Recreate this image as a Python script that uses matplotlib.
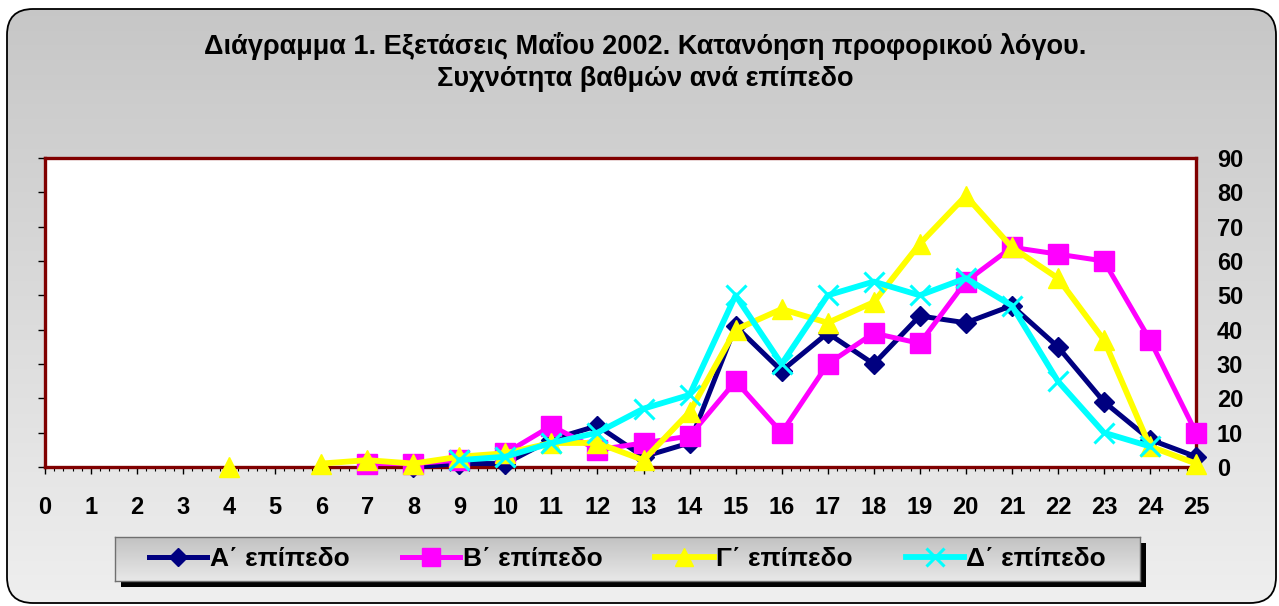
import numpy as np
import matplotlib
matplotlib.use("Agg")
import matplotlib.pyplot as plt
from matplotlib.colors import LinearSegmentedColormap
from matplotlib.patches import FancyBboxPatch, Rectangle
from matplotlib.lines import Line2D
from matplotlib.ticker import MultipleLocator

# ------------------------------------------------------------
# Dados (frequência de notas por nível)
# ------------------------------------------------------------
nan = np.nan
grades = list(range(0, 26))

level_a = [nan, nan, nan, nan, nan, nan, nan, nan, 0, 1, 1, 8, 12, 3, 7,
           41, 28, 39, 30, 44, 42, 47, 35, 19, 8, 3]
level_b = [nan, nan, nan, nan, nan, nan, nan, 1, 1, 2, 4, 12, 5, 7, 9,
           25, 10, 30, 39, 36, 54, 64, 62, 60, 37, 10]
level_c = [nan, nan, nan, nan, 0, nan, 1, 2, 1, 3, 4, 7, 7, 2, 16,
           40, 46, 42, 48, 65, 79, 64, 55, 37, 6, 1]
level_d = [nan, nan, nan, nan, nan, nan, nan, nan, nan, 2, 3, 7, 10, 17, 21,
           50, 30, 50, 54, 50, 55, 47, 25, 10, 6, nan]

labels = ["Α΄ επίπεδο", "Β΄ επίπεδο", "Γ΄ επίπεδο", "Δ΄ επίπεδο"]
title = ("Διάγραμμα 1. Εξετάσεις Μαΐου 2002. Κατανόηση προφορικού λόγου.\n"
         "Συχνότητα βαθμών ανά επίπεδο")

# ------------------------------------------------------------
# Figura
# ------------------------------------------------------------
W, H = 1279, 606
FONT = "Liberation Sans"


def fig_box(x0, y0, x1, y1):
    # pixels (origem em cima à esquerda) -> fração da figura
    return [x0 / W, 1 - y1 / H, (x1 - x0) / W, (y1 - y0) / H]


fig = plt.figure(figsize=(W / 100, H / 100), dpi=100)
fig.patch.set_facecolor("white")

# fundo em degradê com cantos arredondados
bg = fig.add_axes([0, 0, 1, 1], zorder=0)
bg.set_xlim(0, W)
bg.set_ylim(H, 0)
bg.axis("off")
cmap_bg = LinearSegmentedColormap.from_list("bg", ["#c6c6c6", "#efefef"])
grad = np.linspace(0, 1, 256).reshape(-1, 1)
im = bg.imshow(grad, cmap=cmap_bg, extent=(0, W, H, 0), aspect="auto")
caixa = FancyBboxPatch((7, 9), 1269, 594, boxstyle="round,pad=0,rounding_size=26",
                       facecolor="none", edgecolor="black", linewidth=1.3)
bg.add_patch(caixa)
im.set_clip_path(caixa)

# sombra da legenda
bg.add_patch(Rectangle((121, 543), 1025, 44, facecolor="black", edgecolor="none"))

bg.text(645, 62, title, ha="center", va="center", fontsize=19.5, fontweight="bold",
        family=FONT, linespacing=1.25)

# ------------------------------------------------------------
# Eixo principal
# ------------------------------------------------------------
ax = fig.add_axes(fig_box(45, 158, 1196, 467), zorder=1)
ax.set_facecolor("white")

estilos = [
    (level_a, "#000080", "D", 10, 3.6),
    (level_b, "#ff00ff", "s", 15, 3.6),
    (level_c, "#ffff00", "^", 15, 4.2),
    (level_d, "#00ffff", "x", 15, 4.2),
]
handles = []
for i, (vals, cor, mk, ms, lw) in enumerate(estilos):
    ln, = ax.plot(grades, vals, color=cor, marker=mk, markersize=ms, linewidth=lw,
                  markeredgecolor=cor, markerfacecolor=cor,
                  markeredgewidth=2.2 if mk == "x" else 1,
                  clip_on=False, zorder=3 + i)
    handles.append(ln)

ax.set_xlim(0, 25)
ax.set_ylim(0, 90)
ax.xaxis.set_major_locator(MultipleLocator(1))
ax.xaxis.set_minor_locator(MultipleLocator(0.2))
ax.yaxis.set_major_locator(MultipleLocator(10))

for s in ax.spines.values():
    s.set_color("#800000")
    s.set_linewidth(2.4)

ax.tick_params(axis="x", which="major", direction="out", length=5, width=1,
               color="black", pad=16)
ax.tick_params(axis="x", which="minor", direction="out", length=3, width=0.8,
               color="black")
ax.tick_params(axis="y", which="major", direction="out", length=5, width=1,
               color="black", left=True, right=False,
               labelleft=False, labelright=True, pad=10)
for lab in ax.get_xticklabels() + ax.get_yticklabels():
    lab.set_fontsize(17)
    lab.set_fontweight("bold")
    lab.set_family(FONT)

# ------------------------------------------------------------
# Legenda
# ------------------------------------------------------------
lax = fig.add_axes(fig_box(115, 537, 1140, 581), zorder=2)
cmap_leg = LinearSegmentedColormap.from_list("leg", ["#c2c2c2", "#e8e8e8"])
lax.imshow(grad, cmap=cmap_leg, extent=(0, 1, 0, 1), aspect="auto")
lax.set_xticks([])
lax.set_yticks([])
for s in lax.spines.values():
    s.set_color("#707070")
    s.set_linewidth(1)

leg_handles = [Line2D([], [], color=h.get_color(), linewidth=h.get_linewidth(),
                      marker=h.get_marker(), markersize=h.get_markersize() * 0.9,
                      markerfacecolor=h.get_color(), markeredgecolor=h.get_color(),
                      markeredgewidth=h.get_markeredgewidth())
               for h in handles]
leg = fig.legend(leg_handles, labels, loc="center",
                 bbox_to_anchor=((115 + 1140) / 2 / W, 1 - 559 / H),
                 ncol=4, frameon=False, handlelength=2.2, handletextpad=0.1,
                 columnspacing=2.0,
                 prop={"family": FONT, "weight": "bold", "size": 19})
leg.set_zorder(10)

fig.savefig("out.png", dpi=100)
